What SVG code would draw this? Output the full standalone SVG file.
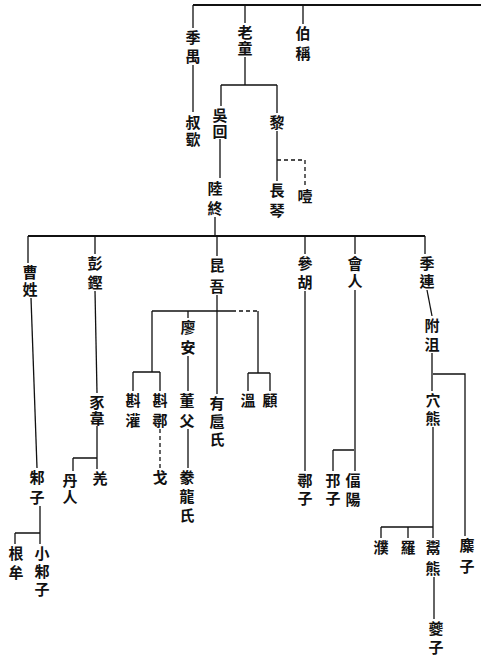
<svg xmlns="http://www.w3.org/2000/svg" width="481" height="665" viewBox="0 0 481 665">
<style>
.t{font-family:"Noto Sans CJK TC","Noto Sans CJK SC",sans-serif;font-size:15px;font-weight:700;fill:#111;writing-mode:vertical-rl;text-anchor:start}
.c{fill:none;stroke:#111;stroke-width:1.3}
.d{stroke-dasharray:4 3}
.b{stroke-width:2}
</style>
<rect width="481" height="665" fill="#fff"/>
<g id="connectors">
<path class="c b" d="M193,5 H481"/>
<path class="c" d="M193,5 V28 M245,5 V23 M303,5 V24"/>
<path class="c" d="M193,65 V112"/>
<path class="c" d="M245,57 V85 M221,85 H277 M221,85 V106 M277,85 V113"/>
<path class="c" d="M220,139 V178"/>
<path class="c" d="M277,131 V181"/>
<path class="c d" d="M277,160 H305 V186"/>
<path class="c" d="M215,217 V236"/>
<path class="c b" d="M28,236 H425"/>
<path class="c" d="M28,236 V263 M95,236 V254 M217,236 V256 M305,236 V254 M355,236 V254 M425,236 V254"/>
<path class="c" d="M31,298 L37,468"/>
<path class="c" d="M40,506 V533 M15,533 H40 M15,533 V544 M40,533 V544"/>
<path class="c" d="M95,291 L97,393"/>
<path class="c" d="M97,426 V458 M73,458 H97 M73,458 V471 M97,458 V469"/>
<path class="c" d="M217,295 V394"/>
<path class="c" d="M152,311 H232"/>
<path class="c d" d="M232,311 H258"/>
<path class="c" d="M188,311 V318 M152,311 V372 M133,372 H160 M133,372 V391 M160,372 V391"/>
<path class="c d" d="M160,429 V468"/>
<path class="c" d="M188,356 V391 M188,429 V468"/>
<path class="c" d="M258,311 V373 M248,373 H270 M248,373 V391 M270,373 V391"/>
<path class="c" d="M305,291 V471"/>
<path class="c" d="M355,290 V471 M333,450 H354 M333,450 V471"/>
<path class="c" d="M427,290 L432,316"/>
<path class="c" d="M432,353 V391 M433,374 H465 V536"/>
<path class="c" d="M433,427 V527 M381,527 H433 M381,527 V538 M408,527 V538 M433,527 V538"/>
<path class="c" d="M434,577 V619"/>
</g>
<g id="n-jiyu"><text class="t" x="193" y="29.5" letter-spacing="4">季禺</text></g>
<g id="n-laotong"><text class="t" x="245" y="24.5" letter-spacing="1">老童</text></g>
<g id="n-bocheng"><text class="t" x="303" y="25.5" letter-spacing="5">伯稱</text></g>
<g id="n-shuchu"><text class="t" x="193" y="114.5" letter-spacing="2">叔歜</text></g>
<g id="n-wuhui"><text class="t" x="220" y="107.5" letter-spacing="1">吳回</text></g>
<g id="n-li"><text class="t" x="277" y="114.5">黎</text></g>
<g id="n-changqin"><text class="t" x="277" y="182.5" letter-spacing="5">長琴</text></g>
<g id="n-ye"><text class="t" x="305" y="188.5">噎</text></g>
<g id="n-luzhong"><text class="t" x="215" y="180.5" letter-spacing="5">陸終</text></g>
<g id="n-caoxing"><text class="t" x="30" y="264.5" letter-spacing="2">曹姓</text></g>
<g id="n-pengkeng"><text class="t" x="95" y="255.5" letter-spacing="4">彭鏗</text></g>
<g id="n-kunwu"><text class="t" x="217" y="257.5" letter-spacing="6">昆吾</text></g>
<g id="n-canhu"><text class="t" x="305" y="255.5" letter-spacing="4">參胡</text></g>
<g id="n-kuairen"><text class="t" x="355" y="255.5" letter-spacing="3">會人</text></g>
<g id="n-jilian"><text class="t" x="427" y="255.5" letter-spacing="3">季連</text></g>
<g id="n-fuju"><text class="t" x="432" y="317.5" letter-spacing="4">附沮</text></g>
<g id="n-xuexiong"><text class="t" x="433" y="392.5" letter-spacing="3">穴熊</text></g>
<g id="n-mizi"><text class="t" x="467" y="537.5" letter-spacing="6">麋子</text></g>
<g id="n-pu"><text class="t" x="381" y="539.5">濮</text></g>
<g id="n-luo"><text class="t" x="408" y="539.5">羅</text></g>
<g id="n-yuxiong"><text class="t" x="433" y="539.5" letter-spacing="6">鬻熊</text></g>
<g id="n-kuizi"><text class="t" x="436" y="620.5" letter-spacing="4">夔子</text></g>
<g id="n-biyang"><text class="t" x="353" y="472.5" letter-spacing="4">偪陽</text></g>
<g id="n-yuzi"><text class="t" x="333" y="472.5" letter-spacing="3">邘子</text></g>
<g id="n-xunzi"><text class="t" x="305" y="472.5" letter-spacing="3">鄩子</text></g>
<g id="n-liaoan"><text class="t" x="188" y="319.5" letter-spacing="5">廖安</text></g>
<g id="n-zhenguan"><text class="t" x="133" y="392.5" letter-spacing="5">斟灌</text></g>
<g id="n-zhenxun"><text class="t" x="160" y="392.5" letter-spacing="5">斟鄩</text></g>
<g id="n-ge"><text class="t" x="160" y="469.5">戈</text></g>
<g id="n-dongfu"><text class="t" x="187" y="392.5" letter-spacing="5">董父</text></g>
<g id="n-huanlong"><text class="t" x="187" y="469.5" letter-spacing="4">豢龍氏</text></g>
<g id="n-youhu"><text class="t" x="217" y="395.5" letter-spacing="3">有扈氏</text></g>
<g id="n-wen"><text class="t" x="248" y="392.5">溫</text></g>
<g id="n-gu"><text class="t" x="270" y="392.5">顧</text></g>
<g id="n-shiwei"><text class="t" x="97" y="394.5" letter-spacing="1">豕韋</text></g>
<g id="n-danren"><text class="t" x="70" y="472.5" letter-spacing="2">丹人</text></g>
<g id="n-qiang"><text class="t" x="100" y="470.5">羌</text></g>
<g id="n-zhuzi"><text class="t" x="37" y="469.5" letter-spacing="5">邾子</text></g>
<g id="n-xiaozhuzi"><text class="t" x="42" y="545.5" letter-spacing="3">小邾子</text></g>
<g id="n-genmou"><text class="t" x="16" y="545.5" letter-spacing="4">根牟</text></g>
</svg>
